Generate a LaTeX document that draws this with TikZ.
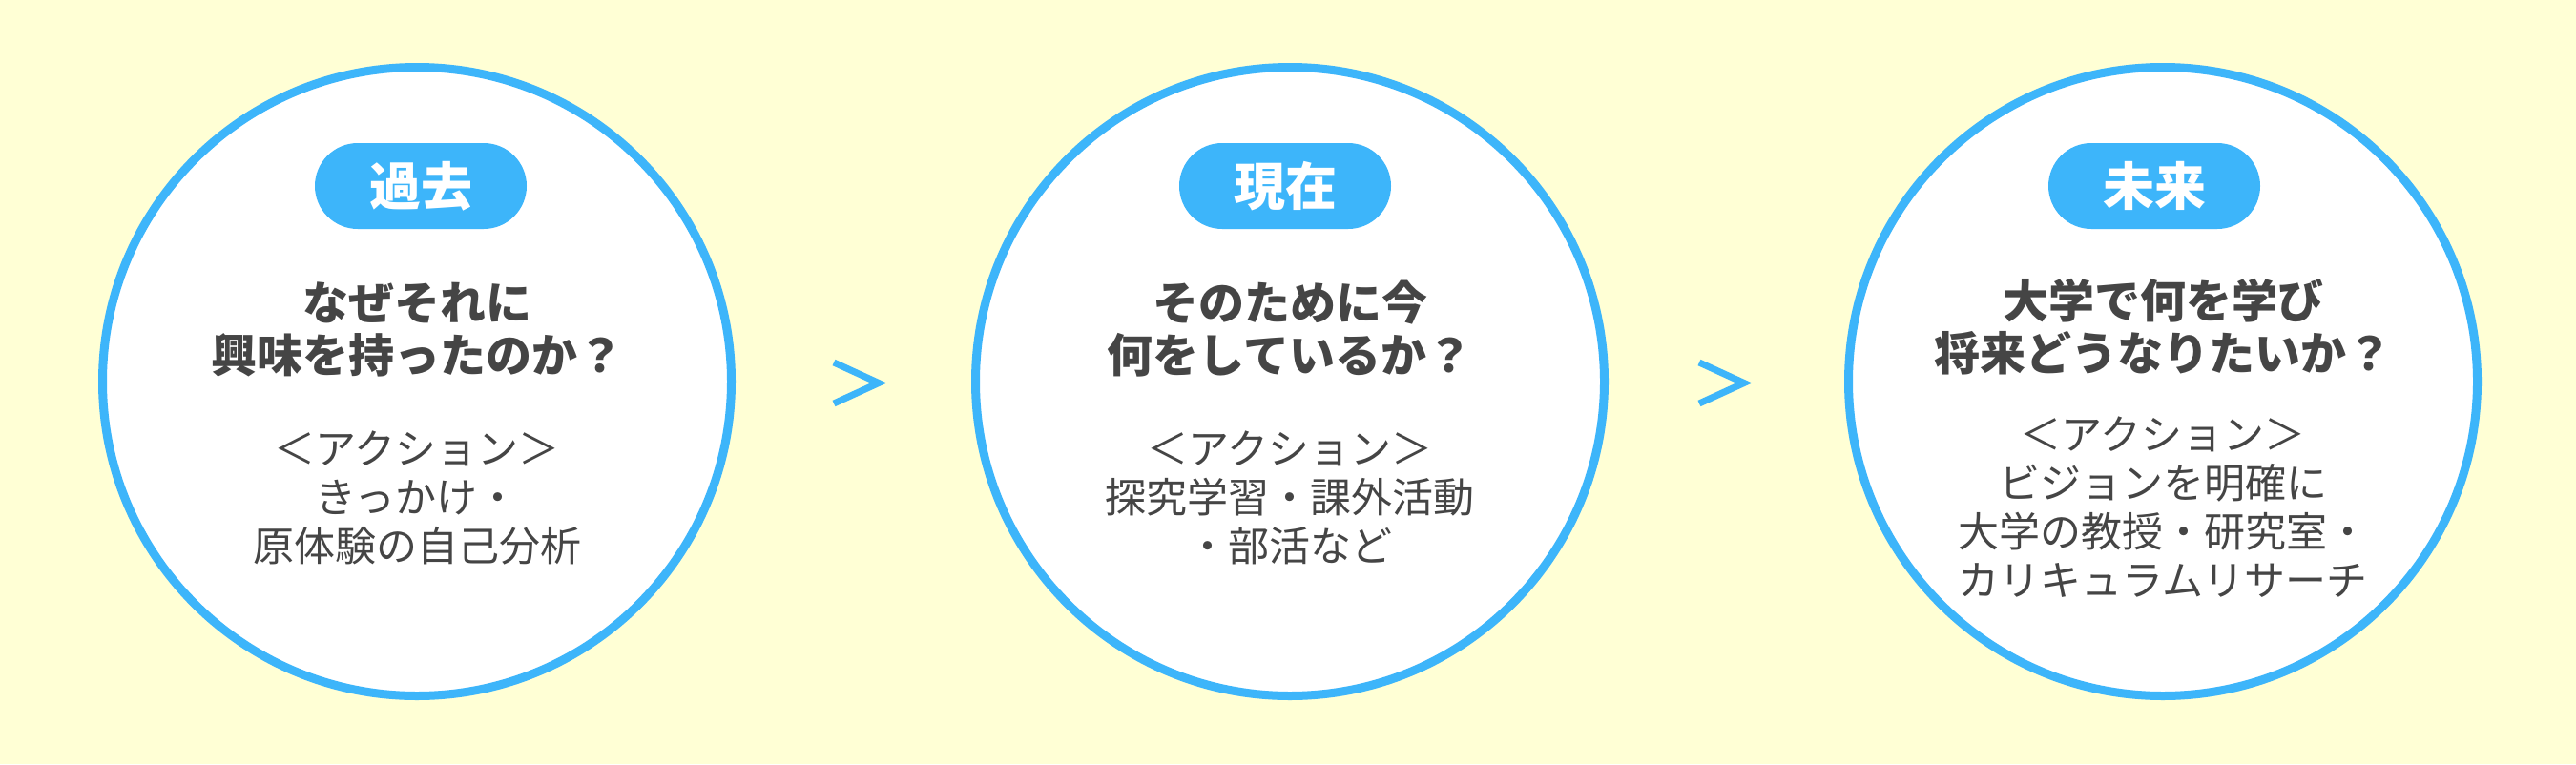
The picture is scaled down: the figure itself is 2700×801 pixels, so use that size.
\documentclass[tikz,border=0pt]{standalone}
\usepackage{fontspec}
\newfontfamily\jp{Noto Sans CJK JP}
\definecolor{bg}{HTML}{FFFFD5}
\definecolor{ringblue}{HTML}{3DB5FA}
\definecolor{ink}{HTML}{454545}
\begin{document}
\begin{tikzpicture}[x=1pt,y=-1pt,
  ring/.style={circle, draw=ringblue, line width=9pt, fill=white, minimum size=659pt, inner sep=0pt},
  pill/.style={fill=ringblue, rounded corners=45pt, minimum width=222pt, minimum height=90pt, text=white, inner sep=0pt, font=\jp\bfseries\fontsize{54}{60}\selectfont},
  title/.style={text=ink, align=center, inner sep=0pt, font=\jp\bfseries\fontsize{48}{55}\selectfont},
  body/.style={text=ink, align=center, inner sep=0pt, font=\jp\fontsize{43}{51}\selectfont},
  chev/.style={draw=ringblue, line width=7pt, line join=miter}]
\fill[bg] (0,0) rectangle (2700,801);
\useasboundingbox (0,0) rectangle (2700,801);
% circles
\node[ring] (c1) at (437,400) {};
\node[ring] (c2) at (1352,400) {};
\node[ring] (c3) at (2267,400) {};
% pills
\node[pill] (p1) at (441,195) {過去};
\node[pill] (p2) at (1347,195) {現在};
\node[pill] (p3) at (2258,195) {未来};
% titles
\node[title] (t1) at (437,345) {なぜそれに\\興味を持ったのか？};
\node[title] (t2) at (1352,345) {そのために今\\何をしているか？};
\node[title] (t3) at (2267,343) {大学で何を学び\\将来どうなりたいか？};
% bodies
\node[body] (b1) at (437,522) {＜アクション＞\\きっかけ・\\原体験の自己分析};
\node[body] (b2) at (1352,522) {＜アクション＞\\探究学習・課外活動\\・部活など};
\node[body] (b3) at (2267,532) {＜アクション＞\\ビジョンを明確に\\大学の教授・研究室・\\カリキュラムリサーチ};
% chevrons
\coordinate (g1) at (921,401.5);
\coordinate (g2) at (1828,401.5);
\draw[chev] ([shift={(-47,-21.5)}]g1) -- (g1) -- ([shift={(-47,21.5)}]g1);
\draw[chev] ([shift={(-47,-21.5)}]g2) -- (g2) -- ([shift={(-47,21.5)}]g2);
\end{tikzpicture}
\end{document}
